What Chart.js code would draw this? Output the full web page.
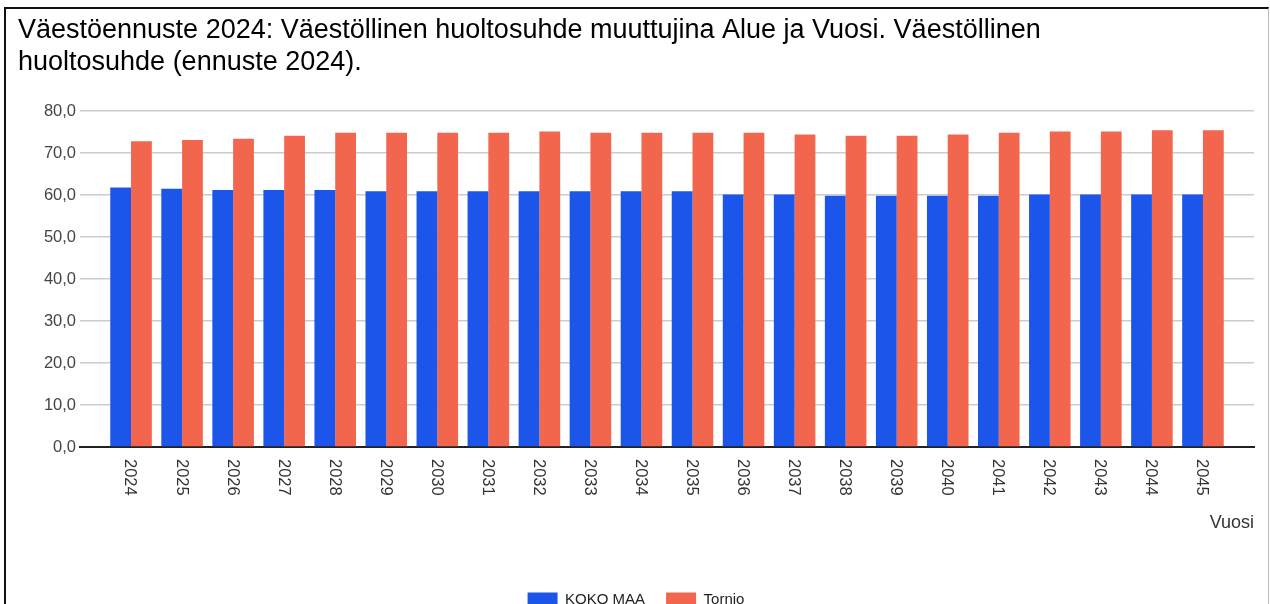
<!DOCTYPE html>
<html>
<head>
<meta charset="utf-8">
<script src="https://cdn.jsdelivr.net/npm/chart.js@4.4.1/dist/chart.umd.min.js"></script>
<style>
  html, body { margin: 0; padding: 0; background: #fff; overflow: hidden; }
  #wrap { position: relative; width: 1270px; height: 604px; overflow: hidden; }
  #frame { position: absolute; left: 4px; top: 7px; width: 1262px; height: 700px;
           border-left: 2px solid #111; border-top: 2px solid #111; border-right: 1px solid #bbb; }
  #c { position: absolute; left: 0; top: 0; }
</style>
</head>
<body>
<div id="wrap">
  <div id="frame"></div>
  <canvas id="c" width="1270" height="617"></canvas>
</div>
<script>
const titleLines = ["Väestöennuste 2024: Väestöllinen huoltosuhde muuttujina Alue ja Vuosi. Väestöllinen", "huoltosuhde (ennuste 2024)."];
const years = [2024, 2025, 2026, 2027, 2028, 2029, 2030, 2031, 2032, 2033, 2034, 2035, 2036, 2037, 2038, 2039, 2040, 2041, 2042, 2043, 2044, 2045];
const seriesNames = ["KOKO MAA", "Tornio"];
const kokoMaa = [61.8, 61.5, 61.2, 61.2, 61.2, 60.9, 60.9, 60.9, 60.9, 60.9, 60.9, 60.9, 60.1, 60.1, 59.8, 59.8, 59.8, 59.8, 60.1, 60.1, 60.1, 60.1];
const tornio = [72.8, 73.1, 73.4, 74.1, 74.8, 74.8, 74.8, 74.8, 75.1, 74.8, 74.8, 74.8, 74.8, 74.4, 74.1, 74.1, 74.4, 74.8, 75.1, 75.1, 75.4, 75.4];
const yTicks = [0, 10, 20, 30, 40, 50, 60, 70, 80];
const xAxisTitle = "Vuosi";

const FONT = "Arial, 'Liberation Sans', sans-serif";

const rotatedLabels = {
  id: 'rotatedLabels',
  afterDraw(chart) {
    const xs = chart.scales.x;
    const ctx = chart.ctx;
    ctx.save();
    ctx.font = "16.5px " + FONT;
    ctx.fillStyle = '#333';
    ctx.textAlign = 'left';
    ctx.textBaseline = 'middle';
    years.forEach(y => {
      const px = xs.getPixelForValue(y);
      ctx.save();
      ctx.translate(px - 1, xs.top + 12);
      ctx.rotate(Math.PI / 2);
      ctx.fillText(String(y), 0, 0);
      ctx.restore();
    });
    ctx.restore();
  }
};

new Chart(document.getElementById('c'), {
  type: 'bar',
  data: {
    labels: years,
    datasets: [
      { label: seriesNames[0], data: kokoMaa, backgroundColor: '#1b55e9', borderWidth: 0 },
      { label: seriesNames[1], data: tornio, backgroundColor: '#f2664e', borderWidth: 0 }
    ]
  },
  options: {
    responsive: false,
    animation: false,
    devicePixelRatio: 1,
    layout: { padding: { left: 18, right: 16, top: 0, bottom: 0 } },
    datasets: { bar: { barPercentage: 1.0, categoryPercentage: 0.814 } },
    plugins: {
      title: {
        display: true,
        text: titleLines,
        align: 'start',
        color: '#000',
        font: { family: FONT, size: 27, weight: 'normal', lineHeight: 1.185 },
        padding: { top: 15, bottom: 32 }
      },
      legend: {
        position: 'bottom',
        labels: {
          boxWidth: 30, boxHeight: 14, padding: 21,
          color: '#222',
          font: { family: FONT, size: 15 }
        }
      },
      tooltip: { enabled: false }
    },
    scales: {
      x: {
        type: 'linear',
        min: 2023, max: 2046,
        offset: false,
        grid: { display: false, drawTicks: false, offset: false },
        border: { display: true, color: '#222', width: 2 },
        ticks: { display: false },
        title: {
          display: true, text: xAxisTitle, align: 'end',
          color: '#333', font: { family: FONT, size: 18 },
          padding: { top: 0, bottom: 37 }
        },
        afterFit(s) { s.height = 124; }
      },
      y: {
        min: 0, max: 80,
        afterBuildTicks(s) { s.ticks = yTicks.map(v => ({ value: v })); },
        grid: { color: '#cccccc', lineWidth: 1.5, drawTicks: false },
        border: { display: false },
        ticks: {
          padding: 4,
          color: '#444',
          font: { family: FONT, size: 16.5 },
          callback: v => v.toFixed(1).replace('.', ',')
        },
        afterFit(s) { s.width = 62; }
      }
    }
  },
  plugins: [rotatedLabels]
});
</script>
</body>
</html>
